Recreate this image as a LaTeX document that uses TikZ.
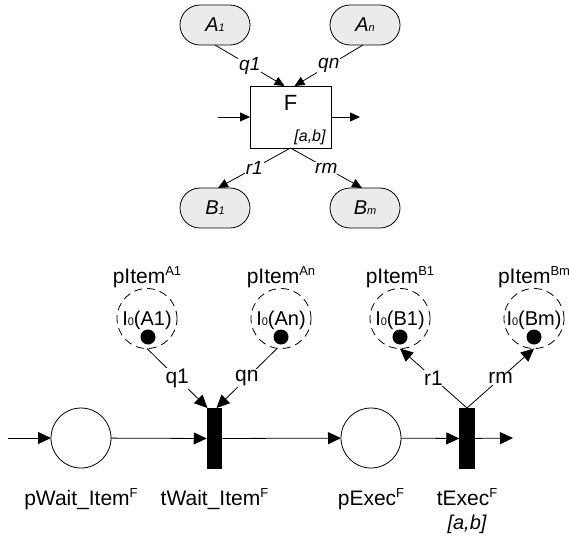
\documentclass[tikz,border=0pt]{standalone}
\usepackage{fontspec}
\setmainfont{Liberation Sans}
\usetikzlibrary{arrows.meta}
\newcommand{\sm}[1]{{\fontsize{11}{11}\selectfont #1}}
\newcommand{\supx}[1]{\raisebox{7.5pt}{\fontsize{13}{13}\selectfont #1}}
\begin{document}
\begin{tikzpicture}[x=1pt,y=-1pt,
  every node/.style={inner sep=0pt, outer sep=0pt},
  obj/.style={draw, line width=0.8pt, fill=black!8, rounded corners=20pt, minimum width=70pt, minimum height=40pt, font=\fontsize{20}{20}\selectfont\itshape},
  fbox/.style={draw, line width=0.8pt, fill=white, minimum width=81pt, minimum height=62pt},
  sarr/.style={-{Triangle[length=10pt,width=9pt]}, line width=0.8pt},
  barr/.style={-{Triangle[length=13pt,width=12pt]}, line width=0.8pt},
  place/.style={draw, line width=0.8pt, circle, minimum size=60pt},
  iplace/.style={draw, line width=0.8pt, circle, dash pattern=on 8pt off 5pt, minimum size=60pt},
  trans/.style={fill=black, minimum width=15.5pt, minimum height=61pt},
  token/.style={circle, fill=black, minimum size=15pt},
  slab/.style={fill=white, inner sep=1pt, font=\fontsize{19}{19}\selectfont\itshape},
  blab/.style={fill=white, inner sep=1pt, font=\fontsize{21}{21}\selectfont},
  nlab/.style={font=\fontsize{21}{21}\selectfont, anchor=base},
  itext/.style={font=\fontsize{20}{20}\selectfont, anchor=base}
]
\useasboundingbox (0,0) rectangle (569,542);

% ---------- top part ----------
\node[obj] (A1) at (215,25) {A\sm{1}};
\node[obj] (An) at (365,25) {A\sm{n}};
\node[obj] (B1) at (215,208) {B\sm{1}};
\node[obj] (Bm) at (365,208) {B\sm{m}};
\node[fbox] (F) at (290.5,117) {};
\node[font=\fontsize{22}{22}\selectfont] (Ft) at (290.5,103) {F};
\node[font=\fontsize{16}{16}\selectfont\itshape] (Fab) at (310,137) {[a,b]};
\coordinate (Fin) at (218,117);
\coordinate (Fout) at (360,117);

\draw[sarr] (A1.south) -- node[slab] {q1} ([xshift=-6pt]F.north);
\draw[sarr] ([xshift=-2pt]An.south) -- node[slab] {qn} ([xshift=4pt]F.north);
\draw[sarr] (F.south) -- node[slab] {r1} ([xshift=3pt]B1.north);
\draw[sarr] (F.south) -- node[slab] {rm} ([xshift=-3pt]Bm.north);
\draw[sarr] (Fin) -- (F.west);
\draw[sarr] (F.east) -- (Fout);

% ---------- Petri net ----------
\coordinate (in) at (8,438);
\node[place] (pw) at (81,438) {};
\node[trans] (tw) at (214.5,438.5) {};
\node[place] (pe) at (371,438) {};
\node[trans] (te) at (467,438.5) {};
\coordinate (out) at (513,438);

\draw[barr] (in) -- (pw);
\draw[barr] (pw) -- (tw);
\draw[barr] (tw) -- (pe);
\draw[barr] (pe) -- (te);
\draw[barr] (te) -- (out);

% item places
\node[iplace] (pA1) at (147,318.5) {};
\node[iplace] (pAn) at (281,318.5) {};
\node[iplace] (pB1) at (400,318.5) {};
\node[iplace] (pBm) at (534,318.5) {};

\node[token] (kA1) at (148,337) {};
\node[token] (kAn) at (281,337) {};
\node[token] (kB1) at (400,337) {};
\node[token] (kBm) at (534,337) {};

\node[itext] (iA1) at (147,325) {I\sm{0}(A1)};
\node[itext] (iAn) at (281,325) {I\sm{0}(An)};
\node[itext] (iB1) at (400,325) {I\sm{0}(B1)};
\node[itext] (iBm) at (534,325) {I\sm{0}(Bm)};

\node[nlab] (lA1) at (147,283) {pItem\supx{A1}};
\node[nlab] (lAn) at (281,283) {pItem\supx{An}};
\node[nlab] (lB1) at (400,283) {pItem\supx{B1}};
\node[nlab] (lBm) at (534,283) {pItem\supx{Bm}};

\draw[barr] (pA1.south) -- node[blab] {q1} ([xshift=-7pt]tw.north);
\draw[barr] ([xshift=-4pt]pAn.south) -- node[blab] {qn} ([xshift=2pt]tw.north);
\draw[barr] (te.north) -- node[blab] {r1} (pB1.south);
\draw[barr] (te.north) -- node[blab] {rm} (pBm.south);

% names
\node[nlab] (nw) at (81,505) {pWait\_Item\supx{F}};
\node[nlab] (ntw) at (214.5,505) {tWait\_Item\supx{F}};
\node[nlab] (ne) at (371,505) {pExec\supx{F}};
\node[nlab] (nte) at (467,505) {tExec\supx{F}};
\node[nlab, font=\fontsize{20}{20}\selectfont\itshape] (nab) at (467,529) {[a,b]};
\end{tikzpicture}
\end{document}
